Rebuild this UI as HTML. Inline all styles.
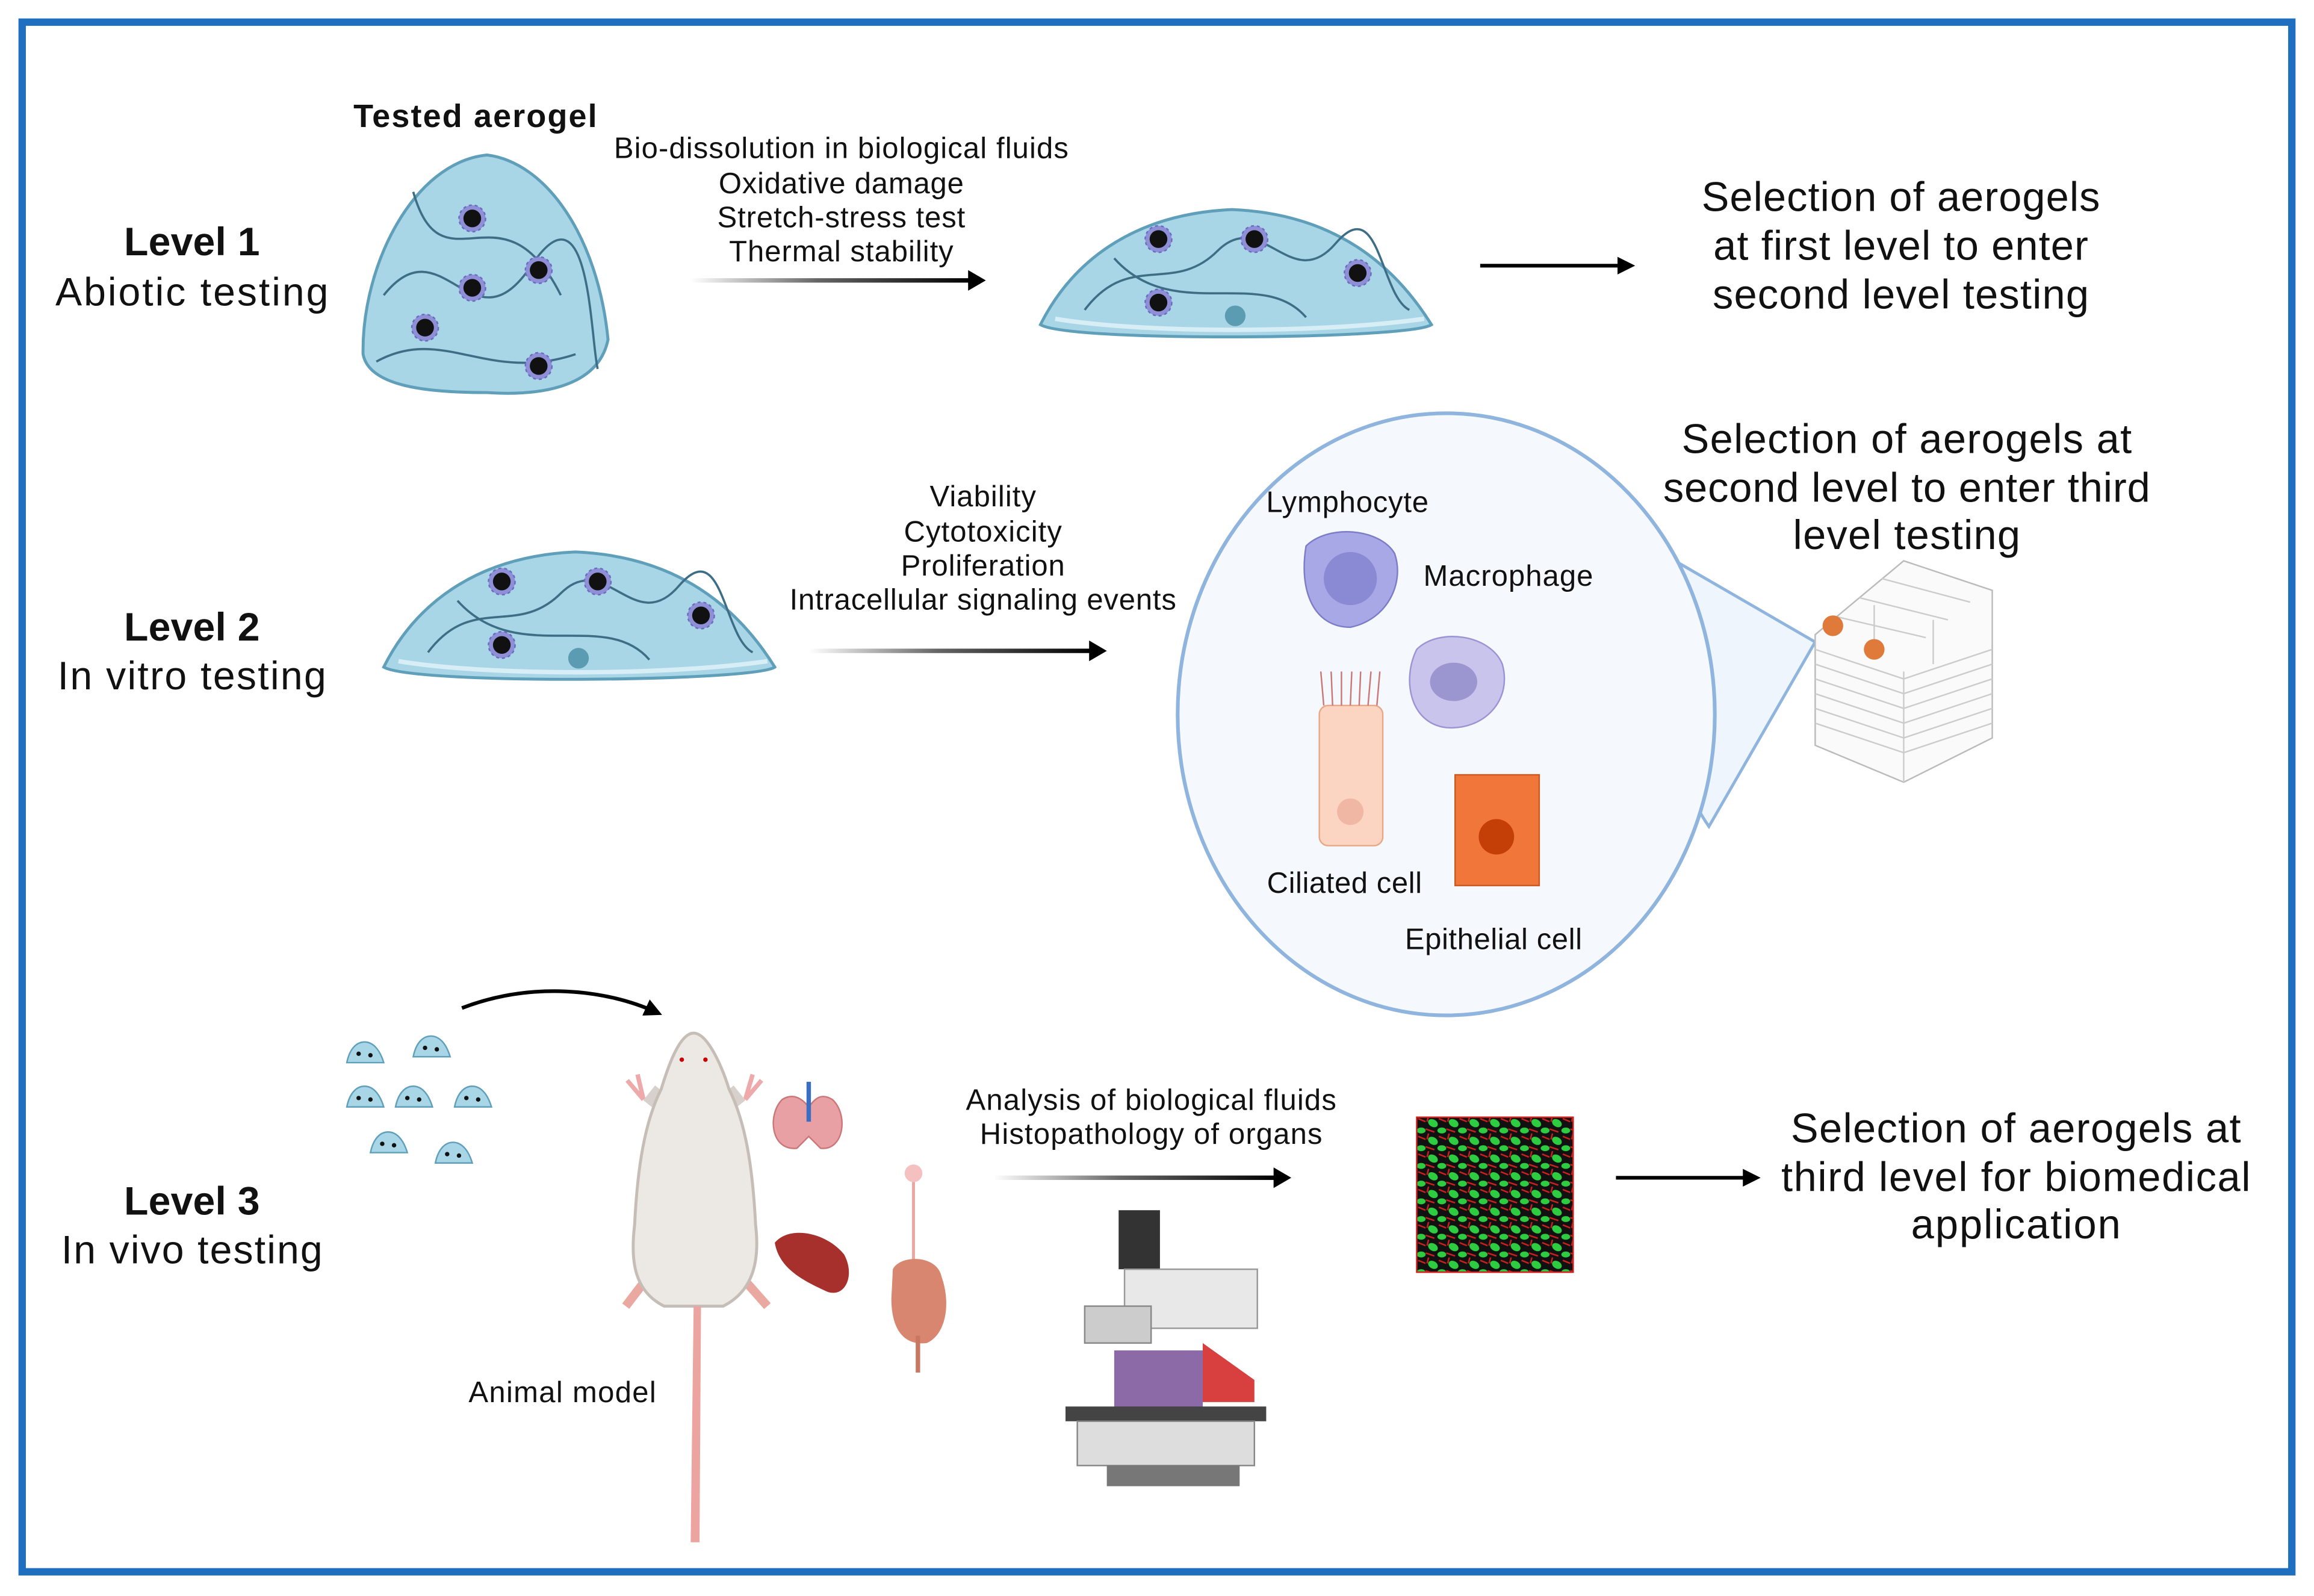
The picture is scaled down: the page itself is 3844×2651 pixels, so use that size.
<!DOCTYPE html>
<html><head><meta charset="utf-8"><style>
html,body{margin:0;padding:0;background:#fff;}
svg{display:block;}
text{font-family:"Liberation Sans",sans-serif;fill:#111;}
</style></head><body>
<svg width="3844" height="2651" viewBox="0 0 1568 1081.4" xmlns="http://www.w3.org/2000/svg">
<defs>
<linearGradient id="ag" x1="0" x2="1" y1="0" y2="0"><stop offset="0" stop-color="#000" stop-opacity="0"/><stop offset="0.45" stop-color="#000" stop-opacity="0.6"/><stop offset="1" stop-color="#000"/></linearGradient>
<marker id="ah" markerWidth="12" markerHeight="12" refX="8" refY="6" orient="auto" markerUnits="userSpaceOnUse"><path d="M0,0 L12,6 L0,12 z" fill="#000"/></marker>
<pattern id="cells" width="14" height="12" patternUnits="userSpaceOnUse"><rect width="14" height="12" fill="#111"/><ellipse cx="5" cy="5" rx="3.5" ry="2.5" fill="#2ecc40" transform="rotate(30 5 5)"/><ellipse cx="11" cy="10" rx="3" ry="2" fill="#2ecc40"/><path d="M0,9 L6,11 M9,2 L14,4 M2,0 L1,4" stroke="#d02020" stroke-width="1"/></pattern>
<g id="dot"><circle r="9" fill="#8f8fd8" stroke="#6b6bc0" stroke-dasharray="2 2"/><circle r="6" fill="#111"/></g>
<g id="flat">
<path d="M-130,30 C-110,-10 -70,-45 0,-48 C70,-45 110,-10 135,30 C120,40 -110,42 -130,30 z" fill="#a9d6e6" stroke="#5f9fba" stroke-width="2"/>
<path d="M-120,26 C-60,36 60,36 130,26" stroke="#d8eef6" stroke-width="3" fill="none"/>
<path d="M-100,20 C-70,-20 -40,10 -10,-20 S40,10 70,-25 S100,10 120,20 M-80,-15 C-40,30 20,-10 50,25" stroke="#3e6e86" stroke-width="1.5" fill="none"/>
<use href="#dot" x="-50" y="-28"/><use href="#dot" x="15" y="-28"/><use href="#dot" x="85" y="-5"/><use href="#dot" x="-50" y="15"/><circle cx="2" cy="24" r="7" fill="#5c9cb2"/>
</g>
<g id="mini"><path d="M-12,6 C-10,-4 -5,-8 0,-8 C5,-8 10,-4 13,6 z" fill="#a9d6e6" stroke="#5f9fba"/><circle cx="-4" cy="0" r="1.5" fill="#111"/><circle cx="4" cy="1" r="1.5" fill="#111"/></g>
</defs>
<rect x="15" y="15" width="1538" height="1050" fill="none" stroke="#1e6fbf" stroke-width="5"/>

<!-- Level 1 -->
<text x="322" y="86" font-size="22" font-weight="bold" text-anchor="middle" textLength="165">Tested aerogel</text>
<text x="130" y="173" font-size="27" font-weight="bold" text-anchor="middle" textLength="92">Level 1</text>
<text x="130" y="207" font-size="27" text-anchor="middle" textLength="185">Abiotic testing</text>
<path d="M330,105 C370,110 405,160 412,230 C405,265 360,268 330,266 C290,266 250,262 246,240 C245,180 280,110 330,105 z" fill="#a9d6e6" stroke="#5f9fba" stroke-width="2"/>
<path d="M260,200 C300,150 320,240 360,180 S400,230 405,250 M280,130 C300,200 340,120 380,200 M255,245 C300,220 330,260 390,240" stroke="#3e6e86" stroke-width="1.5" fill="none"/>
<use href="#dot" x="320" y="148"/><use href="#dot" x="365" y="183"/><use href="#dot" x="320" y="195"/><use href="#dot" x="288" y="222"/><use href="#dot" x="365" y="248"/>
<g font-size="20" text-anchor="middle"><text x="570" y="107" textLength="308">Bio-dissolution in biological fluids</text><text x="570" y="131" textLength="166">Oxidative damage</text><text x="570" y="154" textLength="168">Stretch-stress test</text><text x="570" y="177" textLength="152">Thermal stability</text></g>
<rect x="468" y="188.5" width="190" height="3" fill="url(#ag)"/><path d="M656,183 L668,190 L656,197 z"/>
<use href="#flat" x="835" y="190"/>
<line x1="1003" y1="180" x2="1104" y2="180" stroke="#000" stroke-width="2.5" marker-end="url(#ah)"/>
<g font-size="28" text-anchor="middle"><text x="1288" y="143" textLength="270">Selection of aerogels</text><text x="1288" y="176" textLength="254">at first level to enter</text><text x="1288" y="209" textLength="255">second level testing</text></g>

<!-- Level 2 -->
<text x="130" y="434" font-size="27" font-weight="bold" text-anchor="middle" textLength="92">Level 2</text>
<text x="130" y="467" font-size="27" text-anchor="middle" textLength="182">In vitro testing</text>
<use href="#flat" x="390" y="422"/>
<g font-size="20" text-anchor="middle"><text x="666" y="343" textLength="72">Viability</text><text x="666" y="367" textLength="107">Cytotoxicity</text><text x="666" y="390" textLength="111">Proliferation</text><text x="666" y="413" textLength="262">Intracellular signaling events</text></g>
<rect x="548" y="439.5" width="192" height="3" fill="url(#ag)"/><path d="M738,434 L750,441 L738,448 z"/>
<path d="M1135,380 L1230,435 L1158,560 C1130,520 1110,430 1135,380 z" fill="#eef5fc" stroke="#8fb4de" stroke-width="2"/>
<ellipse cx="980" cy="484" rx="182" ry="204" fill="#f5f9fe" stroke="#8fb4de" stroke-width="2.5"/>
<g transform="translate(1290,460)"><path d="M-60,-30 L0,-80 L60,-60 L60,40 L0,70 L-60,45 z" fill="#fafafa" stroke="#bbb"/>
<path d="M-60,-20 L0,0 L60,-20 M-60,-10 L0,10 L60,-10 M-60,0 L0,20 L60,0 M-60,10 L0,30 L60,10 M-60,20 L0,40 L60,20 M-60,30 L0,50 L60,30 M0,-5 L0,70 M-30,-55 L30,-40 M-45,-42 L15,-28 M-15,-68 L45,-52 M-20,-50 L-20,-20 M20,-40 L20,-10" stroke="#ccc" fill="none"/>
<circle cx="-48" cy="-36" r="7" fill="#e07a3a"/><circle cx="-20" cy="-20" r="7" fill="#e07a3a"/></g>
<g font-size="28" text-anchor="middle"><text x="1292" y="307" textLength="305">Selection of aerogels at</text><text x="1292" y="340" textLength="330">second level to enter third</text><text x="1292" y="372" textLength="154">level testing</text></g>
<text x="913" y="347" font-size="20" text-anchor="middle" textLength="110">Lymphocyte</text>
<path d="M885,370 C900,355 935,358 945,375 C952,395 940,420 915,425 C890,425 880,400 885,370 z" fill="#a8a8e6" stroke="#7c7cc8"/><circle cx="915" cy="392" r="18" fill="#8a8ad4"/>
<text x="1022" y="397" font-size="20" text-anchor="middle" textLength="115">Macrophage</text>
<path d="M960,440 C975,425 1010,430 1018,450 C1025,475 1005,495 980,493 C955,490 950,460 960,440 z" fill="#c9c4ec" stroke="#9a94d4"/><ellipse cx="985" cy="462" rx="16" ry="13" fill="#9c96d0"/>
<rect x="894" y="478" width="43" height="95" rx="6" fill="#fbd5c2" stroke="#e8a888"/><path d="M897,478 L895,455 M903,478 L902,455 M909,478 L909,455 M915,478 L916,455 M921,478 L922,455 M927,478 L929,455 M933,478 L935,455" stroke="#c77" /><circle cx="915" cy="550" r="9" fill="#f0b8a4"/>
<text x="911" y="605" font-size="20" text-anchor="middle" textLength="105">Ciliated cell</text>
<path d="M986,525 L1043,525 L1043,600 L986,600 z" fill="#f0763a" stroke="#c85a24"/><circle cx="1014" cy="567" r="12" fill="#c43e08"/>
<text x="1012" y="643" font-size="20" text-anchor="middle" textLength="120">Epithelial cell</text>

<!-- Level 3 -->
<text x="130" y="823" font-size="27" font-weight="bold" text-anchor="middle" textLength="92">Level 3</text>
<text x="130" y="856" font-size="27" text-anchor="middle" textLength="177">In vivo testing</text>
<use href="#mini" x="247" y="714"/><use href="#mini" x="292" y="710"/><use href="#mini" x="247" y="744"/><use href="#mini" x="280" y="744"/><use href="#mini" x="320" y="744"/><use href="#mini" x="263" y="775"/><use href="#mini" x="307" y="782"/>
<path d="M313,683 C360,665 410,670 445,686" stroke="#000" stroke-width="2.5" fill="none" marker-end="url(#ah)"/>
<!-- rat -->
<path d="M436,745 L425,732 M436,745 L432,728 M505,745 L516,732 M505,745 L510,728" stroke="#eaa" stroke-width="3"/>
<path d="M439,748 L447,738 M502,748 L494,738" stroke="#d8d0cc" stroke-width="8"/>
<path d="M437,868 L424,885 M505,868 L520,885" stroke="#e9a8a0" stroke-width="6"/>
<path d="M470,700 C480,700 490,725 494,738 C505,760 510,790 512,830 C515,855 510,875 490,885 L450,885 C430,875 427,855 430,830 C432,790 437,760 448,738 C452,725 460,700 470,700 z" fill="#ece8e4" stroke="#c6bdb7" stroke-width="2"/>
<path d="M470,885 L468,1045 L474,1045 L475,885 z" fill="#eba4a0"/>
<circle cx="462" cy="718" r="1.5" fill="#c00"/><circle cx="478" cy="718" r="1.5" fill="#c00"/>
<path d="M530,745 C520,755 522,780 540,778 L548,770 L556,778 C572,780 575,755 564,745 C556,740 552,745 548,750 C544,745 538,740 530,745 z" fill="#e8a0a4" stroke="#c77"/><line x1="548" y1="733" x2="548" y2="760" stroke="#3a6ec0" stroke-width="3"/>
<path d="M525,842 C535,830 560,835 572,850 C580,865 572,880 560,875 C545,868 528,860 525,842 z" fill="#a8302c"/>
<line x1="619" y1="790" x2="619" y2="855" stroke="#eca6a0" stroke-width="2"/><circle cx="619" cy="795" r="6" fill="#f4c0c0"/>
<path d="M605,860 C610,850 635,850 638,865 C645,885 640,905 628,910 C612,912 604,900 604,880 z" fill="#d98670"/><line x1="622" y1="905" x2="622" y2="930" stroke="#c87860" stroke-width="3"/>
<text x="381" y="950" font-size="20" text-anchor="middle" textLength="127">Animal model</text>
<g font-size="20" text-anchor="middle"><text x="780" y="752" textLength="251">Analysis of biological fluids</text><text x="780" y="775" textLength="232">Histopathology of organs</text></g>
<rect x="673" y="796.5" width="192" height="3" fill="url(#ag)"/><path d="M863,791 L875,798 L863,805 z"/>
<g transform="translate(790,915)">
<rect x="-32" y="-95" width="28" height="40" fill="#333"/><rect x="-28" y="-55" width="90" height="40" fill="#e8e8e8" stroke="#999"/>
<rect x="-55" y="-30" width="45" height="25" fill="#ccc" stroke="#888"/><rect x="-35" y="0" width="60" height="40" fill="#8c6aa8"/><path d="M25,-5 L60,20 L60,35 L25,35 z" fill="#d84040"/>
<rect x="-68" y="38" width="136" height="10" fill="#444"/><rect x="-60" y="48" width="120" height="30" fill="#ddd" stroke="#888"/><rect x="-40" y="78" width="90" height="14" fill="#777"/></g>
<rect x="960" y="757" width="106" height="105" fill="url(#cells)" stroke="#d02020" stroke-width="1"/>
<line x1="1095" y1="798" x2="1189" y2="798" stroke="#000" stroke-width="2.5" marker-end="url(#ah)"/>
<g font-size="28" text-anchor="middle"><text x="1366" y="774" textLength="305">Selection of aerogels at</text><text x="1366" y="807" textLength="318">third level for biomedical</text><text x="1366" y="839" textLength="142">application</text></g>
</svg>
</body></html>
